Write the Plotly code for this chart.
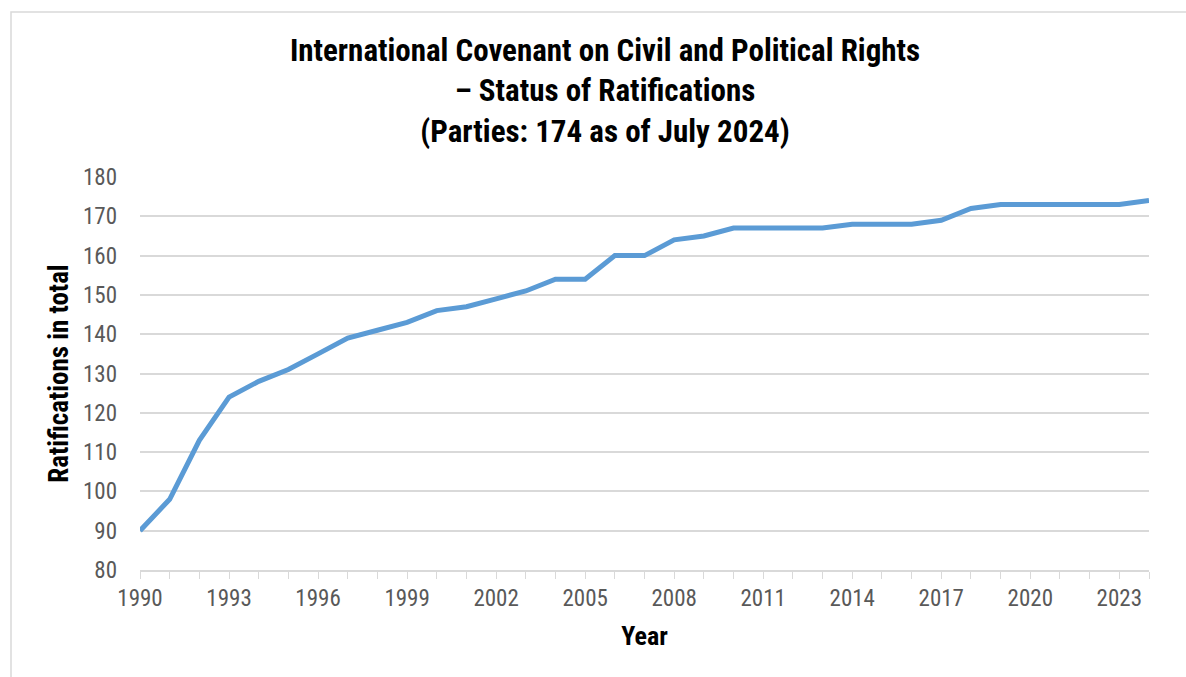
import plotly.graph_objects as go

# Cumulative number of States Parties to the ICCPR, by year
years = list(range(1990, 2025))
ratifications = [
    90, 98, 113, 124, 128, 131, 135, 139, 141, 143,
    146, 147, 149, 151, 154, 154, 160, 160, 164, 165,
    167, 167, 167, 167, 168, 168, 168, 169, 172, 173,
    173, 173, 173, 173, 174,
]

x_tick_vals = list(range(1990, 2025, 3))
y_tick_vals = list(range(80, 181, 10))

FONT = "Roboto Condensed, DejaVu Sans Condensed, Liberation Sans Narrow, Roboto, sans-serif"
GRID = "#d9d9d9"
TICK_TEXT = "#595959"

W, H = 1186, 677
L, R, T, B = 140, 37, 177, 107
plot_w = W - L - R
plot_h = H - T - B

fig = go.Figure()
fig.add_trace(go.Scatter(
    x=years,
    y=ratifications,
    mode="lines",
    line=dict(color="#5b9bd5", width=5),
    hoverinfo="x+y",
))

# outer chart frame (top and left edges visible)
fig.add_shape(
    type="rect", xref="paper", yref="paper",
    x0=(11 - L) / plot_w, x1=(W + 20 - L) / plot_w,
    y0=-(H + 20 - (H - B)) / plot_h, y1=(H - B - 12) / plot_h,
    line=dict(color=GRID, width=1.5), fillcolor="rgba(0,0,0,0)", layer="below",
)

fig.update_layout(
    width=W, height=H,
    margin=dict(l=L, r=R, t=T, b=B),
    paper_bgcolor="white", plot_bgcolor="white",
    showlegend=False,
    font=dict(family=FONT, color=TICK_TEXT),
    title=dict(
        text="International Covenant on Civil and Political Rights<br>– Status of Ratifications<br>(Parties: 174 as of July 2024)",
        x=(605 - L) / plot_w, xanchor="center", xref="paper",
        y=1 - 61 / H, yanchor="top",
        font=dict(family=FONT, size=31, color="black", weight="bold"),
    ),
    xaxis=dict(
        range=[1990, 2024],
        tickvals=x_tick_vals,
        ticktext=[str(v) for v in x_tick_vals],
        ticks="outside", ticklen=7, tickcolor=GRID, tickwidth=1,
        minor=dict(dtick=1, tick0=1990, ticks="outside", ticklen=7, tickcolor=GRID, showgrid=False),
        showgrid=False, zeroline=False,
        showline=True, linecolor=GRID, linewidth=1.5,
        tickfont=dict(size=23, color=TICK_TEXT),
        ticklabelstandoff=0,
        title=dict(text="Year", standoff=15, font=dict(size=26, color="black", weight="bold")),
    ),
    yaxis=dict(
        range=[80, 180],
        tickvals=y_tick_vals,
        showgrid=True, gridcolor=GRID, gridwidth=1.5,
        zeroline=False, showline=False, ticks="",
        tickfont=dict(size=23, color=TICK_TEXT),
        ticklabelstandoff=22,
        title=dict(text="Ratifications in total", standoff=6, font=dict(size=27, color="black", weight="bold")),
    ),
)

fig.write_html("out.html")
